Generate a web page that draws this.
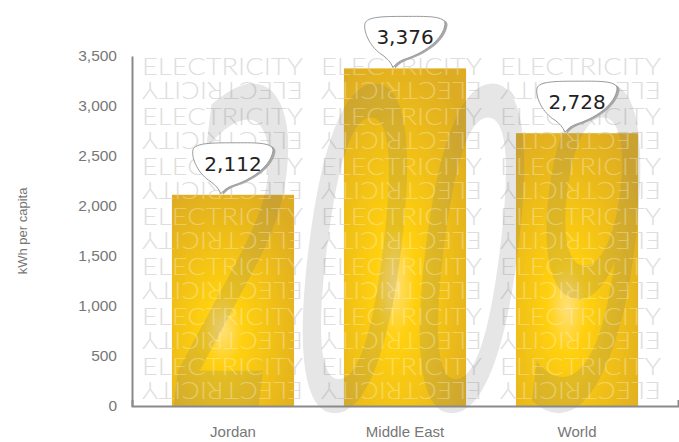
<!doctype html>
<html lang="en">
  <head>
    <meta charset="UTF-8" />
    <title>Electricity per capita 2009</title>
    <script src="https://d3js.org/d3.v7.min.js"></script>
    <style>
      body {
        margin: 0;
        background: #fff;
      }
      .axis text {
        font-family: 'Liberation Sans', Arial, sans-serif;
        fill: #777;
      }
      .axis path {
        stroke: #8a8a8a;
        stroke-width: 2;
        fill: none;
      }
    </style>
  </head>
  <body>
    <div id="chart"></div>
    <script>
      // chart data
      const categories = ['Jordan', 'Middle East', 'World'];
      const values = [2112, 3376, 2728];
      const yTicks = [0, 500, 1000, 1500, 2000, 2500, 3000, 3500];
      const yTitle = 'kWh per capita';
      const yearMark = '2009';
      const watermarkWord = 'ELECTRICITY';

      const W = 679;
      const H = 442;
      const margin = { top: 56, right: 1, bottom: 36, left: 132 };

      const svg = d3
        .select('#chart')
        .append('svg')
        .attr('width', W)
        .attr('height', H);

      const x = d3
        .scaleBand()
        .domain(categories)
        .range([margin.left, W - margin.right])
        .paddingInner(0.29)
        .paddingOuter(0.232);

      const y = d3
        .scaleLinear()
        .domain([0, 3500])
        .range([H - margin.bottom, margin.top]);

      const defs = svg.append('defs');

      // bar fill: gold with a bright centre
      const grad = defs
        .append('radialGradient')
        .attr('id', 'barGrad')
        .attr('cx', 0.42)
        .attr('cy', 0.64)
        .attr('r', 0.75);
      grad.append('stop').attr('offset', '0%').attr('stop-color', '#ffe07a');
      grad.append('stop').attr('offset', '22%').attr('stop-color', '#ffd010');
      grad.append('stop').attr('offset', '62%').attr('stop-color', '#edbd1a');
      grad.append('stop').attr('offset', '100%').attr('stop-color', '#ddac24');

      // clip path made of the bars
      const clip = defs.append('clipPath').attr('id', 'barClip');
      clip
        .selectAll('rect')
        .data(values)
        .enter()
        .append('rect')
        .attr('x', (d, i) => x(categories[i]))
        .attr('y', (d) => y(d))
        .attr('width', x.bandwidth())
        .attr('height', (d) => y(0) - y(d));

      // watermark rows of "ELECTRICITY", normal + upside down
      const colStarts = [142, 321, 500];
      const rowIdx = d3.range(7);
      function watermark(g, fill, opacity) {
        rowIdx.forEach((r) => {
          const base = 75 + r * 50;
          colStarts.forEach((cx) => {
            [false, true].forEach((flip) => {
              const t = g
                .append('text')
                .attr('x', cx)
                .attr('y', base)
                .attr('textLength', 161)
                .attr('lengthAdjust', 'spacingAndGlyphs')
                .style('font-family', 'Lato, "DejaVu Sans", sans-serif')
                .style('font-weight', 300)
                .style('font-size', '23.5px')
                .attr('fill', fill)
                .attr('opacity', opacity)
                .text(watermarkWord);
              if (flip) {
                t.attr(
                  'transform',
                  'rotate(180,' + (cx + 80.5) + ',' + (base + 3.5) + ')',
                );
              }
            });
          });
        });
      }

      watermark(svg.append('g'), '#dedede', 1);

      // bars
      svg
        .append('g')
        .selectAll('rect')
        .data(values)
        .enter()
        .append('rect')
        .attr('x', (d, i) => x(categories[i]))
        .attr('y', (d) => y(d))
        .attr('width', x.bandwidth())
        .attr('height', (d) => y(0) - y(d))
        .attr('fill', 'url(#barGrad)');

      // big year in the background
      svg
        .append('text')
        .attr('x', 0)
        .attr('y', 0)
        .attr('textLength', 468)
        .attr('lengthAdjust', 'spacingAndGlyphs')
        .attr('transform', 'translate(160,407) skewX(-7)')
        .style('font-family', '"Liberation Sans Narrow", "DejaVu Sans", sans-serif')
        .style('font-size', '436px')
        .attr('fill', '#777')
        .attr('opacity', 0.18)
        .text(yearMark);

      // lighter watermark on top of the bars
      watermark(
        svg.append('g').attr('clip-path', 'url(#barClip)'),
        '#ffffff',
        0.3,
      );

      // axes
      svg
        .append('g')
        .attr('class', 'axis')
        .attr('transform', 'translate(' + margin.left + ',0)')
        .call(
          d3
            .axisLeft(y)
            .tickValues(yTicks)
            .tickFormat(d3.format(','))
            .tickSizeInner(0)
            .tickSizeOuter(0)
            .tickPadding(15),
        )
        .selectAll('text')
        .style('font-size', '15.5px');

      svg
        .append('g')
        .attr('class', 'axis')
        .attr('transform', 'translate(0,' + y(0) + ')')
        .call(
          d3
            .axisBottom(x)
            .tickSizeInner(0)
            .tickSizeOuter(-6)
            .tickPadding(20),
        )
        .selectAll('text')
        .style('font-size', '15px')
        .attr('fill', '#666');

      svg
        .append('text')
        .attr(
          'transform',
          'translate(27,' + (y(0) + y(3500)) / 2 + ') rotate(-90)',
        )
        .attr('text-anchor', 'middle')
        .style('font-family', '"Liberation Sans", Arial, sans-serif')
        .style('font-size', '13px')
        .attr('fill', '#777')
        .text(yTitle);

      // value callouts
      const bubble =
        'M-12,-1 C-14,-6 -18,-10 -22,-13 C-34,-20 -42,-36 -40,-45 C-38,-52 -20,-52 0,-52 C20,-52 41,-53 40,-44 C38,-30 22,-17 2,-10 C-5,-8 -9,-5 -12,-1 Z';
      const callouts = svg
        .append('g')
        .selectAll('g')
        .data(values)
        .enter()
        .append('g')
        .attr(
          'transform',
          (d, i) =>
            'translate(' +
            (x(categories[i]) + x.bandwidth() / 2) +
            ',' +
            y(d) +
            ')',
        );
      callouts
        .append('path')
        .attr('d', bubble)
        .attr('transform', 'translate(2.5,1)')
        .attr('fill', '#a8a8a8');
      callouts
        .append('path')
        .attr('d', bubble)
        .attr('fill', '#fff')
        .attr('stroke', '#9a9a9a')
        .attr('stroke-width', 1);
      callouts
        .append('text')
        .attr('x', 0)
        .attr('y', -24)
        .attr('text-anchor', 'middle')
        .style('font-family', '"DejaVu Sans", sans-serif')
        .style('font-size', '20px')
        .attr('fill', '#222')
        .text((d) => d3.format(',')(d));
    </script>
  </body>
</html>
